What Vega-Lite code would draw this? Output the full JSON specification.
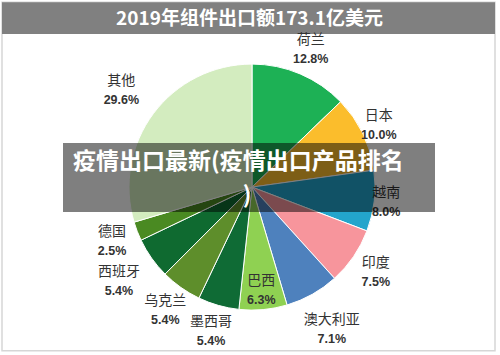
{
  "$schema": "https://vega.github.io/schema/vega-lite/v6.json",
  "width": 500,
  "height": 355,
  "padding": 0,
  "autosize": {"type": "fit", "contains": "padding"},
  "background": "white",
  "config": {"view": {"stroke": null}},
  "datasets": {
    "slices": [
      {"name": "荷兰", "pct": 12.8, "label": "12.8%", "idx": 1},
      {"name": "日本", "pct": 10.0, "label": "10.0%", "idx": 2},
      {"name": "越南", "pct": 8.0, "label": "8.0%", "idx": 3},
      {"name": "印度", "pct": 7.5, "label": "7.5%", "idx": 4},
      {"name": "澳大利亚", "pct": 7.1, "label": "7.1%", "idx": 5},
      {"name": "巴西", "pct": 6.3, "label": "6.3%", "idx": 6},
      {"name": "墨西哥", "pct": 5.4, "label": "5.4%", "idx": 7},
      {"name": "乌克兰", "pct": 5.4, "label": "5.4%", "idx": 8},
      {"name": "西班牙", "pct": 5.4, "label": "5.4%", "idx": 9},
      {"name": "德国", "pct": 2.5, "label": "2.5%", "idx": 10},
      {"name": "其他", "pct": 29.6, "label": "29.6%", "idx": 11}
    ],
    "one": [{}]
  },
  "layer": [
    {
      "data": {"name": "one"},
      "mark": {"type": "rect", "fill": "white", "stroke": "#d6d6d6", "strokeWidth": 1.5},
      "encoding": {
        "x": {"datum": 0.004, "type": "quantitative", "scale": {"domain": [0, 1], "nice": false, "zero": false}, "axis": null},
        "x2": {"datum": 0.99},
        "y": {"datum": 0.006, "type": "quantitative", "scale": {"domain": [0, 1], "nice": false, "zero": false, "reverse": true}, "axis": null},
        "y2": {"datum": 0.988}
      }
    },
    {
      "data": {"name": "one"},
      "mark": {"type": "rect", "fill": "#808080"},
      "encoding": {
        "x": {"datum": 0.004, "type": "quantitative"},
        "x2": {"datum": 0.99},
        "y": {"datum": 0.006, "type": "quantitative"},
        "y2": {"datum": 0.096}
      }
    },
    {
      "data": {"name": "one"},
      "mark": {"type": "text", "text": "2019年组件出口额173.1亿美元", "font": "Noto Sans CJK SC", "fontWeight": "bold", "fontSize": 19, "fill": "white", "align": "center", "baseline": "middle"},
      "encoding": {
        "x": {"datum": 0.499, "type": "quantitative"},
        "y": {"datum": 0.053, "type": "quantitative"}
      }
    },
    {
      "data": {"name": "slices"},
      "mark": {"type": "arc", "outerRadius": 123, "stroke": "white", "strokeWidth": 1},
      "encoding": {
        "x": {"datum": 0.504, "type": "quantitative"},
        "y": {"datum": 0.527, "type": "quantitative"},
        "theta": {"field": "pct", "type": "quantitative", "stack": true},
        "order": {"field": "idx", "type": "quantitative"},
        "color": {
          "field": "name",
          "type": "nominal",
          "legend": null,
          "scale": {
            "domain": ["荷兰", "日本", "越南", "印度", "澳大利亚", "巴西", "墨西哥", "乌克兰", "西班牙", "德国", "其他"],
            "range": ["#1db155", "#fbbd2c", "#23a5cc", "#f7959c", "#4e81bd", "#8fd152", "#0f6b35", "#5e8e2b", "#0f6a30", "#4a8a22", "#d3ecbf"]
          }
        }
      }
    },
    {
      "data": {"name": "slices"},
      "mark": {"type": "text", "font": "Noto Sans CJK SC", "fontSize": 14, "fill": "#333333", "align": "center", "baseline": "middle", "dy": -9,
        "radius": {"expr": "datum.name==='巴西' ? 103 : datum.name==='日本' ? 141 : datum.name==='越南' ? 135 : (datum.name==='澳大利亚'||datum.name==='西班牙'||datum.name==='其他') ? 163 : 150"}},
      "encoding": {
        "x": {"datum": 0.504, "type": "quantitative"},
        "y": {"datum": 0.527, "type": "quantitative"},
        "theta": {"field": "pct", "type": "quantitative", "stack": true},
        "order": {"field": "idx", "type": "quantitative"},
        "text": {"field": "name"}
      }
    },
    {
      "data": {"name": "slices"},
      "mark": {"type": "text", "font": "Liberation Sans", "fontSize": 12.5, "fontWeight": "bold", "fill": "#333333", "align": "center", "baseline": "middle", "dy": 10,
        "radius": {"expr": "datum.name==='巴西' ? 103 : datum.name==='日本' ? 141 : datum.name==='越南' ? 135 : (datum.name==='澳大利亚'||datum.name==='西班牙'||datum.name==='其他') ? 163 : 150"}},
      "encoding": {
        "x": {"datum": 0.504, "type": "quantitative"},
        "y": {"datum": 0.527, "type": "quantitative"},
        "theta": {"field": "pct", "type": "quantitative", "stack": true},
        "order": {"field": "idx", "type": "quantitative"},
        "text": {"field": "label"}
      }
    },
    {
      "data": {"name": "one"},
      "mark": {"type": "rect", "fill": "black", "opacity": 0.5},
      "encoding": {
        "x": {"datum": 0.126, "type": "quantitative"},
        "x2": {"datum": 0.87},
        "y": {"datum": 0.403, "type": "quantitative"},
        "y2": {"datum": 0.597}
      }
    },
    {
      "data": {"name": "one"},
      "mark": {"type": "text", "text": "疫情出口最新(疫情出口产品排名", "font": "Noto Sans CJK SC", "fontWeight": "bold", "fontSize": 23, "fill": "white", "align": "left", "baseline": "middle"},
      "encoding": {
        "x": {"datum": 0.146, "type": "quantitative"},
        "y": {"datum": 0.457, "type": "quantitative"}
      }
    },
    {
      "data": {"name": "one"},
      "mark": {"type": "text", "text": ")", "font": "Noto Sans CJK SC", "fontWeight": "bold", "fontSize": 23, "fill": "white", "align": "center", "baseline": "middle"},
      "encoding": {
        "x": {"datum": 0.494, "type": "quantitative"},
        "y": {"datum": 0.552, "type": "quantitative"}
      }
    }
  ]
}
